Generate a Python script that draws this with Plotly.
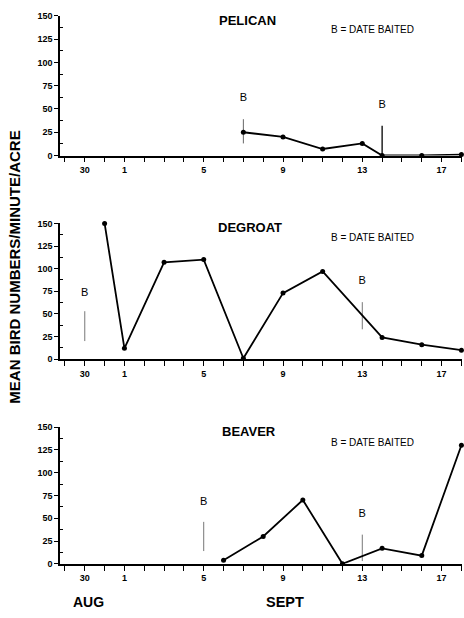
import plotly.graph_objects as go

# Day index: Sept d = d, Aug 31 = 0, Aug 30 = -1
tick_days = [-1, 1, 5, 9, 13, 17]
tick_labels = ["30", "1", "5", "9", "13", "17"]
y_ticks = [0, 25, 50, 75, 100, 125, 150]

pelican_x = [7, 9, 11, 13, 14, 16, 18]
pelican_y = [25, 20, 7, 13, 0, 0, 1]
pelican_bait_x = [7, 14]
pelican_bait_lo = [13, 0]
pelican_bait_hi = [39, 32]
pelican_b_label_y = [61, 54]

degroat_x = [0, 1, 3, 5, 7, 9, 11, 14, 16, 18]
degroat_y = [150, 12, 107, 110, 1, 73, 97, 24, 16, 10]
degroat_bait_x = [-1, 13]
degroat_bait_lo = [20, 33]
degroat_bait_hi = [53, 63]
degroat_b_label_y = [73, 86]

beaver_x = [6, 8, 10, 12, 14, 16, 18]
beaver_y = [4, 30, 70, 0, 17, 9, 130]
beaver_bait_x = [5, 13]
beaver_bait_lo = [14, 3]
beaver_bait_hi = [46, 32]
beaver_b_label_y = [67, 54]

panel_names = ["PELICAN", "DEGROAT", "BEAVER"]
legend_text = "B = DATE BAITED"

W, H = 464, 618
FONT = "Liberation Sans, Arial, sans-serif"


def px_x(p):
    return p / W


def px_y(p):
    return 1 - p / H


panels = [
    (pelican_x, pelican_y, pelican_bait_x, pelican_bait_lo, pelican_bait_hi, pelican_b_label_y, ["#666", "#000"]),
    (degroat_x, degroat_y, degroat_bait_x, degroat_bait_lo, degroat_bait_hi, degroat_b_label_y, ["#777", "#777"]),
    (beaver_x, beaver_y, beaver_bait_x, beaver_bait_lo, beaver_bait_hi, beaver_b_label_y, ["#777", "#777"]),
]
# pixel boxes (top, bottom) of each plot area in the reference
boxes = [(11, 153), (222, 360), (429, 568)]
title_px = [(248, 16), (250, 226), (249, 434)]
legend_px = [25, 236, 445]
x_left, x_right = 60, 462


def label(text, x, y, size, bold=True, angle=0):
    fig.add_annotation(text=text, x=px_x(x), y=px_y(y), xref="paper", yref="paper",
                       xanchor="center", yanchor="middle", showarrow=False, textangle=angle,
                       font=dict(family=FONT, size=size, color="black",
                                 weight="bold" if bold else "normal"))


fig = go.Figure()
for i, (px, py, bx, blo, bhi, bly, bcols) in enumerate(panels):
    n = "" if i == 0 else str(i + 1)
    xa, ya = "x" + n, "y" + n
    for d, lo, hi, c in zip(bx, blo, bhi, bcols):
        fig.add_trace(go.Scatter(x=[d, d], y=[lo, hi], mode="lines",
                                 line=dict(color=c, width=1.3 if c == "#000" else 1),
                                 xaxis=xa, yaxis=ya, showlegend=False, hoverinfo="skip",
                                 cliponaxis=False))
    fig.add_trace(go.Scatter(x=px, y=py, mode="lines+markers",
                             line=dict(color="black", width=1.8),
                             marker=dict(color="black", size=5),
                             xaxis=xa, yaxis=ya, showlegend=False, cliponaxis=False))
    fig.add_trace(go.Scatter(x=bx, y=bly, mode="text", text=["B"] * len(bx),
                             textfont=dict(family=FONT, size=11, color="black"),
                             xaxis=xa, yaxis=ya, showlegend=False, hoverinfo="skip",
                             cliponaxis=False))
    top, bot = boxes[i]
    axis_common = dict(showline=True, linecolor="black", linewidth=1.5,
                       showgrid=False, zeroline=False, mirror=False,
                       ticks="outside", tickcolor="black", tickwidth=1.2,
                       tickfont=dict(family=FONT, size=9, color="black", weight="bold"))
    fig.update_layout(**{
        "xaxis" + n: dict(axis_common, domain=[px_x(x_left), px_x(x_right)],
                          range=[-2.25, 18.03], tickmode="array",
                          tickvals=tick_days, ticktext=tick_labels, ticklen=5,
                          minor=dict(tickmode="linear", tick0=0, dtick=1, ticklen=5,
                                     ticks="outside", tickcolor="black", tickwidth=1.2),
                          anchor=ya, fixedrange=True),
        "yaxis" + n: dict(axis_common, domain=[px_y(bot), px_y(top)],
                          range=[0, 150], tickmode="array", tickvals=y_ticks,
                          ticklen=4,
                          minor=dict(tickmode="linear", tick0=12.5, dtick=25, ticklen=3,
                                     ticks="inside", tickcolor="black", tickwidth=1),
                          anchor=xa, fixedrange=True),
    })
    tx, ty = title_px[i]
    label(panel_names[i], tx, ty, 13)
    label(legend_text, 372, legend_px[i], 10, bold=False)

label("MEAN BIRD NUMBERS/MINUTE/ACRE", 15, 267, 15, angle=-90)
label("AUG", 88, 607, 14)
label("SEPT", 285, 607, 14.5)

fig.update_layout(width=W, height=H, margin=dict(l=0, r=0, t=0, b=0),
                  paper_bgcolor="white", plot_bgcolor="white", showlegend=False)
fig.write_html("out.html", config={"displayModeBar": False},
               post_script="document.body.style.margin='0px';document.body.style.overflow='hidden';")
